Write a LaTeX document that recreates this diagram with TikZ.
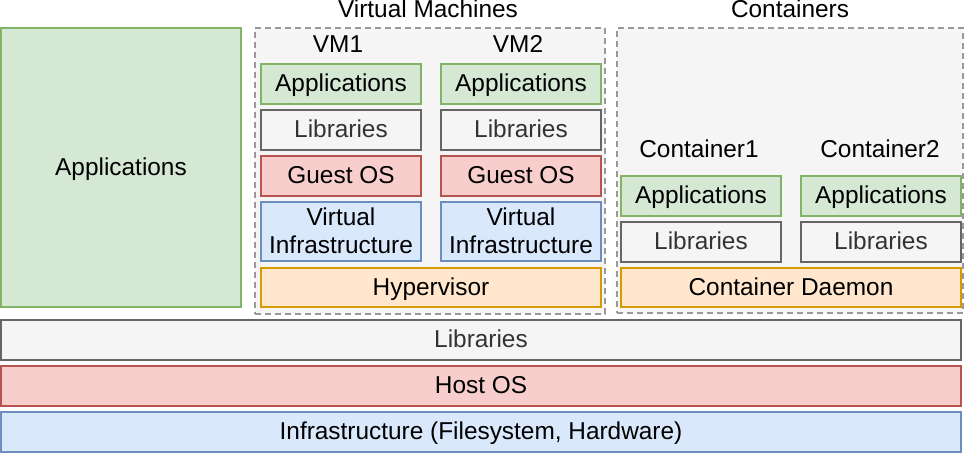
\documentclass[tikz,border=0pt]{standalone}
\usepackage{fontspec}
\setmainfont{Liberation Sans}
\definecolor{gfill}{HTML}{D5E8D4}\definecolor{gline}{HTML}{82B366}
\definecolor{rfill}{HTML}{F8CECC}\definecolor{rline}{HTML}{B85450}
\definecolor{bfill}{HTML}{DAE8FC}\definecolor{bline}{HTML}{6C8EBF}
\definecolor{ofill}{HTML}{FFE6CC}\definecolor{oline}{HTML}{D79B00}
\definecolor{lfill}{HTML}{F5F5F5}\definecolor{lline}{HTML}{666666}
\definecolor{ltext}{HTML}{333333}
\definecolor{dline}{HTML}{999999}
\begin{document}
\begin{tikzpicture}[x=0.5pt,y=-0.5pt,
  every node/.style={font=\fontsize{12.2}{13.85}\selectfont, inner sep=0pt, outer sep=0pt, align=center},
  oneline/.style={text height=10pt, text depth=2.44pt},
  box/.style={draw, rectangle, line width=1pt},
  appbox/.style={box, oneline, fill=gfill, draw=gline},
  libbox/.style={box, oneline, fill=lfill, draw=lline, text=ltext},
  osbox/.style={box, oneline, fill=rfill, draw=rline},
  infbox/.style={box, fill=bfill, draw=bline},
  orbox/.style={box, oneline, fill=ofill, draw=oline},
  group/.style={rectangle, fill=lfill, draw=dline, line width=1pt, dash pattern=on 3pt off 2pt},
  lbl/.style={oneline, text=black}]
\useasboundingbox (0,0) rectangle (966,453);
% left applications
\node[appbox, minimum width=120pt, minimum height=139.5pt] (leftapp) at (121,167.5) {Applications};
% VM group
\node[group, minimum width=175pt, minimum height=143pt] (vmgroup) at (430,171) {};
\node[lbl] (vmtitle) at (428,10) {Virtual Machines};
\node[lbl] (vm1) at (338,45) {VM1};
\node[lbl] (vm2) at (518,45) {VM2};
\foreach \cx/\n in {341/a, 521/b} {
  \node[appbox, minimum width=80pt, minimum height=20pt] (vmapp\n) at (\cx,84) {Applications};
  \node[libbox, minimum width=80pt, minimum height=20pt] (vmlib\n) at (\cx,130) {Libraries};
  \node[osbox, minimum width=80pt, minimum height=20pt] (vmos\n) at (\cx,176) {Guest OS};
  \node[infbox, minimum width=80pt, minimum height=29.5pt] (vminf\n) at (\cx,231.5) {};
  \node[text=black] (vminftext\n) at (\cx,230.5) {Virtual\\Infrastructure};
}
\node[orbox, minimum width=170pt, minimum height=19.5pt] (hyper) at (431,287.5) {Hypervisor};
% Containers group
\node[group, minimum width=173pt, minimum height=142.5pt] (cgroup) at (790,170.5) {};
\node[lbl] (ctitle) at (790,10) {Containers};
\node[lbl] (c1) at (699,150) {Container1};
\node[lbl] (c2) at (880,150) {Container2};
\foreach \cx/\n in {701/a, 881/b} {
  \node[appbox, minimum width=80pt, minimum height=20pt] (capp\n) at (\cx,196) {Applications};
  \node[libbox, minimum width=80pt, minimum height=20pt] (clib\n) at (\cx,242) {Libraries};
}
\node[orbox, minimum width=170pt, minimum height=19.5pt] (daemon) at (791,287.5) {Container Daemon};
% bottom layers
\node[libbox, minimum width=480pt, minimum height=20pt] (blib) at (481,340) {Libraries};
\node[osbox, minimum width=480pt, minimum height=20pt] (host) at (481,386) {Host OS};
\node[infbox, oneline, minimum width=480pt, minimum height=20pt] (infra) at (481,432) {Infrastructure (Filesystem, Hardware)};
\end{tikzpicture}
\end{document}
